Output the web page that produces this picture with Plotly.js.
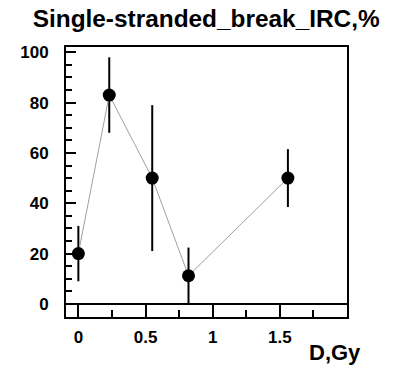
<!DOCTYPE html>
<html>
<head>
<meta charset="utf-8">
<script src="https://cdn.plot.ly/plotly-3.0.1.min.js"></script>
<style>html,body{margin:0;padding:0;background:#fff;}#chart{width:395px;height:365px;}</style>
</head>
<body>
<div id="chart"></div>
<script>
var doseGy = [0, 0.23, 0.55, 0.82, 1.56];
var ircPercent = [20, 83, 50, 11.2, 50];
var ircError = [11, 15, 29, 11.2, 11.5];
var xTickVals = [0, 0.5, 1, 1.5];
var xTickText = ["0", "0.5", "1", "1.5"];
var yTickVals = [0, 20, 40, 60, 80, 100];

var trace = {
  x: doseGy,
  y: ircPercent,
  mode: "lines+markers",
  type: "scatter",
  line: {color: "#a0a0a0", width: 1},
  marker: {color: "#000", size: 13},
  error_y: {type: "data", array: ircError, visible: true, color: "#000", thickness: 2, width: 0}
};

var fontTick = {family: "Liberation Sans, Arial, sans-serif", size: 17, color: "#000", weight: "bold"};

var layout = {
  width: 395,
  height: 365,
  margin: {l: 66, r: 48, t: 47, b: 48},
  paper_bgcolor: "#fff",
  plot_bgcolor: "#fff",
  showlegend: false,
  title: {
    text: "<b>Single-stranded_break_IRC,%</b>",
    font: {family: "Liberation Sans, Arial, sans-serif", size: 24.4, color: "#000"},
    x: 0.522, xanchor: "center", xref: "container",
    y: 0.95, yanchor: "middle"
  },
  xaxis: {
    range: [-0.092, 2.0],
    tickvals: xTickVals,
    ticktext: xTickText,
    ticks: "inside",
    ticklen: 13,
    tickwidth: 2,
    tickcolor: "#000",
    showline: true,
    linecolor: "#000",
    linewidth: 2,
    mirror: true,
    showgrid: false,
    zeroline: false,
    tickfont: fontTick,
    ticklabelstandoff: 4,
    minor: {dtick: 0.25, tick0: 0.25, ticks: "inside", ticklen: 7, tickwidth: 2, tickcolor: "#000", showgrid: false}
  },
  yaxis: {
    range: [-5.2, 102.1],
    tickvals: yTickVals,
    ticks: "inside",
    ticklen: 10,
    tickwidth: 2,
    tickcolor: "#000",
    showline: true,
    linecolor: "#000",
    linewidth: 2,
    mirror: true,
    showgrid: false,
    zeroline: true,
    zerolinecolor: "#000",
    zerolinewidth: 2,
    tickfont: fontTick,
    ticklabelstandoff: 12,
    minor: {dtick: 5, ticks: "inside", ticklen: 6, tickwidth: 2, tickcolor: "#000", showgrid: false}
  },
  annotations: [{
    text: "<b>D,Gy</b>",
    xref: "paper", yref: "paper",
    x: 1.057, xanchor: "right",
    y: -0.13, yanchor: "middle",
    showarrow: false,
    font: {family: "Liberation Sans, Arial, sans-serif", size: 22, color: "#000"}
  }]
};

Plotly.newPlot("chart", [trace], layout, {displayModeBar: false, staticPlot: true});
</script>
</body>
</html>
